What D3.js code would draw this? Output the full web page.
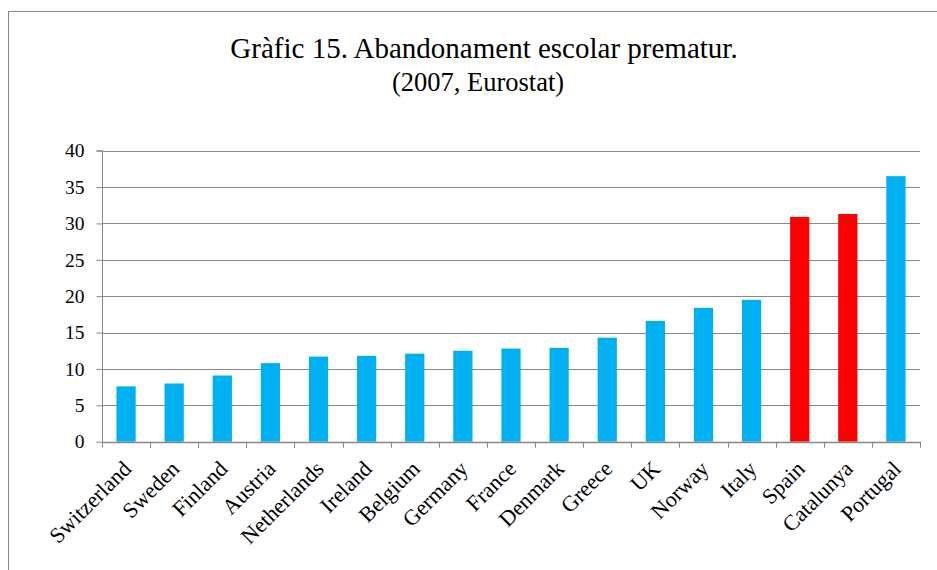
<!DOCTYPE html>
<html>
<head>
<meta charset="utf-8">
<script src="https://cdn.jsdelivr.net/npm/d3@7"></script>
<style>
html,body{margin:0;padding:0;background:#fff;}
svg text{font-family:"Liberation Serif","Times New Roman",serif;fill:#000;}
</style>
</head>
<body>
<svg id="chart" width="937" height="570"></svg>
<script>
const categories = ["Switzerland","Sweden","Finland","Austria","Netherlands","Ireland","Belgium","Germany","France","Denmark","Greece","UK","Norway","Italy","Spain","Catalunya","Portugal"];
const values = [7.6,8.0,9.1,10.8,11.7,11.8,12.1,12.5,12.8,12.9,14.3,16.6,18.4,19.5,30.9,31.3,36.5];
const highlighted = ["Spain","Catalunya"];
const yTicks = [0,5,10,15,20,25,30,35,40];
const titleText = "Gràfic 15. Abandonament escolar prematur.";
const subtitleText = "(2007, Eurostat)";

(function(){
const svg = d3.select("#chart");
const W = 937, H = 570;
const pLeft = 102, pRight = 920, pTop = 150.7, pBottom = 441.7;
const grid = "#888888";

svg.append("rect").attr("x",8.5).attr("y",11.5).attr("width",W).attr("height",H)
  .attr("fill","none").attr("stroke","#878787").attr("stroke-width",1);

svg.append("text").attr("x",484).attr("y",58).attr("text-anchor","middle")
  .style("font-size","29px").text(titleText);
svg.append("text").attr("x",478).attr("y",91).attr("text-anchor","middle")
  .style("font-size","26.5px").text(subtitleText);

const x = d3.scaleBand().domain(categories).range([pLeft,pRight]).paddingInner(0.6).paddingOuter(0.3);
const y = d3.scaleLinear().domain([0,40]).range([pBottom,pTop]);

// gridlines
svg.append("g").selectAll("line").data(yTicks.filter(d=>d>0)).join("line")
  .attr("x1",pLeft).attr("x2",pRight)
  .attr("y1",d=>Math.round(y(d))+0.5).attr("y2",d=>Math.round(y(d))+0.5)
  .attr("stroke",grid).attr("stroke-width",1);

// bars
svg.append("g").selectAll("rect").data(categories).join("rect")
  .attr("x",d=>x(d)).attr("width",x.bandwidth())
  .attr("y",(d,i)=>y(values[i])).attr("height",(d,i)=>y(0)-y(values[i]))
  .attr("fill",d=>highlighted.includes(d)?"#FF0000":"#00B0F0");

// y axis
const yAxis = svg.append("g").attr("transform",`translate(${pLeft+0.5},0)`)
  .call(d3.axisLeft(y).tickValues(yTicks).tickSize(6).tickPadding(12).tickFormat(d3.format("d")));
yAxis.select(".domain").attr("stroke",grid).attr("d",`M-6,${pTop}H0V${pBottom}`);
yAxis.selectAll(".tick line").attr("stroke",grid);
yAxis.selectAll(".tick text").style("font-size","19.5px").attr("fill","#000")
  .style("font-family","'Liberation Serif','Times New Roman',serif");

// x axis line + ticks at band boundaries
const boundaries = d3.range(categories.length+1).map(i=>pLeft + i*(pRight-pLeft)/categories.length);
svg.append("line").attr("x1",pLeft).attr("x2",pRight).attr("y1",Math.round(pBottom)+0.5).attr("y2",Math.round(pBottom)+0.5)
  .attr("stroke",grid).attr("stroke-width",1.3);
svg.append("g").selectAll("line").data(boundaries).join("line")
  .attr("x1",d=>Math.round(d)+0.5).attr("x2",d=>Math.round(d)+0.5)
  .attr("y1",pBottom).attr("y2",pBottom+6).attr("stroke",grid);

// x labels
svg.append("g").selectAll("text").data(categories).join("text")
  .attr("transform",d=>`translate(${x(d)+x.bandwidth()/2+1},${pBottom+23}) rotate(-45)`)
  .attr("text-anchor","end").attr("dy","0.35em")
  .style("font-size","22px").text(d=>d);
})();
</script>
</body>
</html>
